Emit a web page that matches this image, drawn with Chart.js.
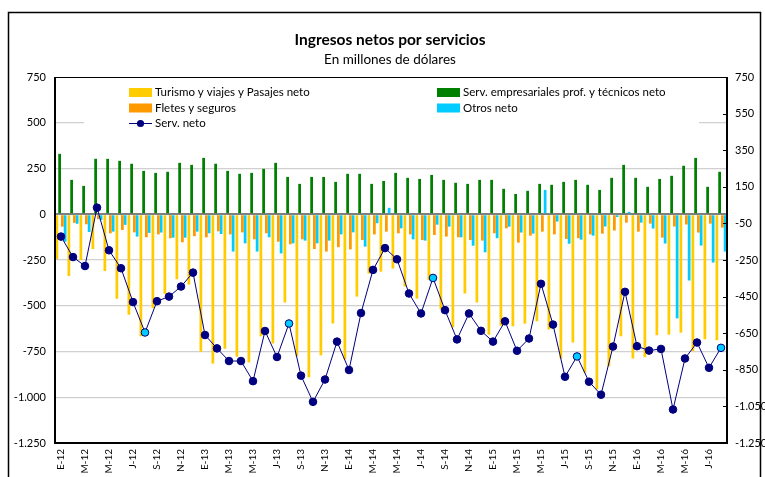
<!DOCTYPE html>
<html><head><meta charset="utf-8">
<script src="https://cdn.jsdelivr.net/npm/chart.js@4/dist/chart.umd.min.js"></script>
<style>html,body{margin:0;padding:0;background:#fff}#wrap{width:765px;height:477px;position:relative}</style>
</head><body><div id="wrap"><canvas id="c" width="765" height="477"></canvas></div>
<script>
const months = ['E-12','F-12','M-12','A-12','M-12','J-12','J-12','A-12','S-12','O-12','N-12','D-12',
'E-13','F-13','M-13','A-13','M-13','J-13','J-13','A-13','S-13','O-13','N-13','D-13',
'E-14','F-14','M-14','A-14','M-14','J-14','J-14','A-14','S-14','O-14','N-14','D-14',
'E-15','F-15','M-15','A-15','M-15','J-15','J-15','A-15','S-15','O-15','N-15','D-15',
'E-16','F-16','M-16','A-16','M-16','J-16','J-16','A-16'];
const turismo = [-245,-337,-250,-190,-310,-462,-549,-667,-513,-435,-355,-384,-751,-816,-735,-778,-810,-667,-706,-482,-776,-891,-771,-597,-794,-450,-324,-314,-297,-395,-461,-359,-520,-618,-433,-482,-658,-609,-612,-598,-585,-630,-788,-701,-866,-957,-830,-667,-788,-781,-661,-658,-647,-748,-683,-688];
const servEmp = [330,188,155,303,303,292,276,237,226,232,281,270,308,276,237,221,226,248,281,204,166,204,204,177,221,221,166,182,226,199,193,215,188,172,166,188,188,139,111,128,166,161,177,188,161,133,199,270,199,150,193,210,265,308,150,232];
const fletes = [-68,-47,-55,-27,-104,-86,-99,-126,-110,-131,-153,-120,-126,-93,-110,-99,-137,-104,-150,-164,-137,-190,-204,-180,-192,-141,-110,-95,-104,-110,-141,-113,-122,-126,-141,-144,-104,-77,-155,-117,-95,-110,-135,-131,-110,-106,-89,-46,-95,-51,-128,-67,-56,-100,-51,-73];
const otros = [-150,-52,-97,-31,-95,-58,-122,-102,-100,-128,-128,-95,-104,-108,-204,-159,-204,-126,-214,-159,-144,-159,-144,-110,-99,-177,-49,35,-77,-137,-144,-57,-68,-126,-172,-208,-131,-68,-100,-106,133,-40,-161,-139,-117,-67,-15,13,-46,-78,-160,-569,-362,-171,-264,-204];
const servNeto = [-122,-234,-283,36,-197,-295,-480,-646,-475,-450,-395,-319,-660,-733,-802,-802,-912,-638,-780,-597,-882,-1025,-903,-696,-851,-540,-304,-185,-246,-433,-542,-348,-524,-684,-542,-637,-696,-585,-746,-679,-380,-603,-888,-777,-915,-986,-723,-424,-721,-745,-736,-1067,-788,-701,-839,-730];
const leftTicks = [-1250,-1000,-750,-500,-250,0,250,500,750];
const rightTicks = [-1250,-1050,-850,-650,-450,-250,-50,150,350,550,750];

const FONT = 'Lato, "Open Sans", sans-serif';
const C_YEL = '#FFCC00', C_GRN = '#008000', C_ORG = '#FF9900', C_CYN = '#00CCFF', C_NAVY = '#000080';
function fmt(v){ const s = String(Math.abs(v)).replace(/\B(?=(\d{3})+(?!\d))/g,'.'); return (v<0?'-':'')+s; }

const decor = {
  id:'decor',
  beforeDraw(chart){
    const c = chart.ctx; c.save(); c.fillStyle='#fff'; c.fillRect(0,0,chart.width,chart.height); c.restore();
  },
  beforeDatasetsDraw(chart){
    const c = chart.ctx; c.save();
    c.fillStyle='#fff'; c.fillRect(84,80,615,50);
    c.font = '11.5px '+FONT; c.fillStyle='#000'; c.textBaseline='middle'; c.textAlign='left';
    const sw = (x,y,col)=>{ c.fillStyle=col; c.fillRect(x,y-4.5,23,9); };
    sw(129,92.5,C_YEL); sw(129,108,C_ORG); sw(437,92.5,C_GRN); sw(437,108,C_CYN);
    c.strokeStyle=C_NAVY; c.lineWidth=1; c.beginPath(); c.moveTo(129,123.5); c.lineTo(152,123.5); c.stroke();
    c.fillStyle=C_NAVY; c.beginPath(); c.arc(140.5,123.5,3.6,0,Math.PI*2); c.fill();
    c.fillStyle='#000';
    c.fillText('Turismo y viajes y Pasajes neto',155,92.5);
    c.fillText('Fletes y seguros',155,108);
    c.fillText('Serv. neto',155,123.5);
    c.fillText('Serv. empresariales prof. y técnicos neto',463,92.5);
    c.fillText('Otros neto',463,108);
    c.restore();
  },
  afterDraw(chart){
    const c = chart.ctx, a = chart.chartArea; c.save();
    c.strokeStyle='#000'; c.lineWidth=1.5;
    c.beginPath(); c.moveTo(8.5,477); c.lineTo(8.5,12.5); c.lineTo(760.5,12.5); c.lineTo(760.5,477); c.stroke();
    c.lineWidth=1.2; c.beginPath(); c.moveTo(a.left,a.top+0.5); c.lineTo(a.right,a.top+0.5); c.stroke();
    c.lineWidth=2; c.beginPath(); c.moveTo(a.left,a.top); c.lineTo(a.left,a.bottom); c.lineTo(a.right,a.bottom); c.lineTo(a.right,a.top); c.stroke();
    const y2 = chart.scales.y2; c.lineWidth=1;
    rightTicks.forEach(v=>{ const py=Math.round(y2.getPixelForValue(v))+0.5; c.beginPath(); c.moveTo(a.right-4,py); c.lineTo(a.right,py); c.stroke(); });
    c.fillStyle='#000'; c.textAlign='center'; c.textBaseline='middle';
    c.font = 'bold 15.5px '+FONT; c.fillText('Ingresos netos por servicios',390,40);
    c.font = '13.5px '+FONT; c.fillText('En millones de dólares',390,60);
    c.restore();
  }
};

const pointBg = servNeto.map((v,i)=> (i%12===7) ? C_CYN : C_NAVY);

new Chart(document.getElementById('c'), {
  data:{
    labels: months,
    datasets:[
      {type:'line', label:'Serv. neto', data:servNeto, borderColor:C_NAVY, borderWidth:1, pointRadius:3.8, pointBackgroundColor:pointBg, pointBorderColor:C_NAVY, pointBorderWidth:1, order:0, yAxisID:'y', tension:0},
      {type:'bar', label:'Turismo y viajes y Pasajes neto', data:turismo, backgroundColor:C_YEL, order:1, yAxisID:'y'},
      {type:'bar', label:'Serv. empresariales prof. y técnicos neto', data:servEmp, backgroundColor:C_GRN, order:1, yAxisID:'y'},
      {type:'bar', label:'Fletes y seguros', data:fletes, backgroundColor:C_ORG, order:1, yAxisID:'y'},
      {type:'bar', label:'Otros neto', data:otros, backgroundColor:C_CYN, order:1, yAxisID:'y'}
    ]
  },
  options:{
    responsive:false, animation:false, devicePixelRatio:1,
    datasets:{bar:{categoryPercentage:11/12, barPercentage:1, borderWidth:0}},
    layout:{padding:{top:77,left:0,right:0,bottom:0}},
    plugins:{legend:{display:false}, tooltip:{enabled:false}, title:{display:false}},
    scales:{
      x:{ grid:{display:false, drawTicks:false}, border:{display:false},
          ticks:{autoSkip:false, maxRotation:90, minRotation:90, padding:6, color:'#000', font:{family:FONT,size:10},
                 callback:(v,i)=> i%2===0 ? months[i] : ''},
          afterFit:s=>{s.height=34;} },
      y:{ position:'left', min:-1250, max:750,
          afterBuildTicks:s=>{ s.ticks = leftTicks.map(v=>({value:v})); },
          grid:{drawTicks:false, color:ctx=> ctx.tick && ctx.tick.value===0 ? '#808080' : ((ctx.tick && (ctx.tick.value===750||ctx.tick.value===-1250)) ? 'rgba(0,0,0,0)' : '#d0d0d0'),
                lineWidth:ctx=> ctx.tick && ctx.tick.value===0 ? 2 : 1.3},
          border:{display:false},
          ticks:{padding:9, color:'#000', font:{family:FONT,size:11}, callback:v=>fmt(v)},
          afterFit:s=>{s.width=55;} },
      y2:{ position:'right', min:-1250, max:750,
          afterBuildTicks:s=>{ s.ticks = rightTicks.map(v=>({value:v})); },
          grid:{display:false, drawTicks:false}, border:{display:false},
          ticks:{padding:8, color:'#000', font:{family:FONT,size:11}, callback:v=>fmt(v)},
          afterFit:s=>{s.width=38;} }
    }
  },
  plugins:[decor]
});
</script></body></html>
